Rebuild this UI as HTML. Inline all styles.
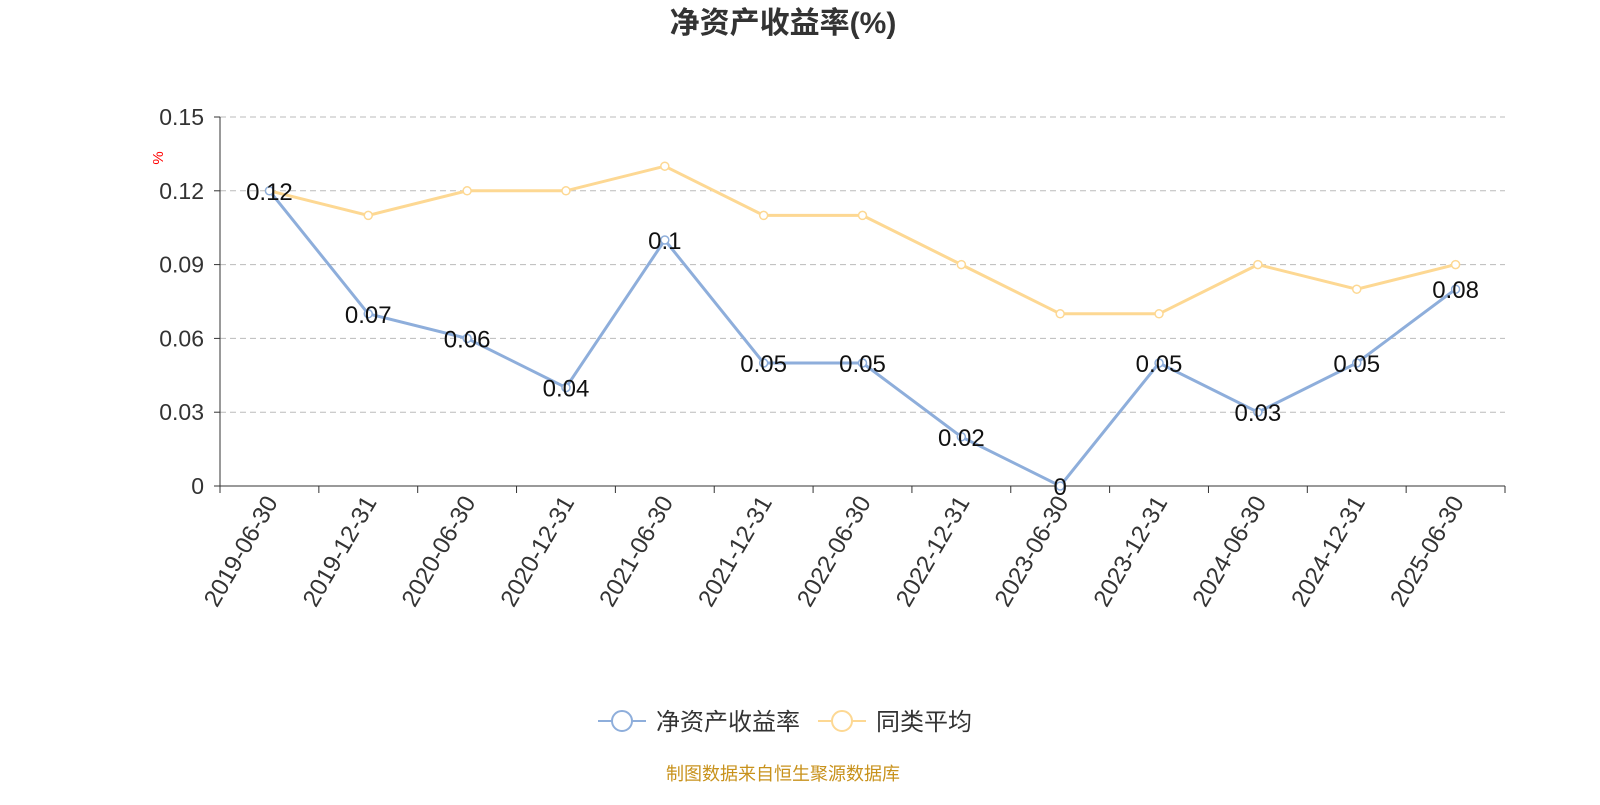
<!DOCTYPE html>
<html><head><meta charset="utf-8"><style>
body{margin:0;background:#fff;width:1600px;height:800px;overflow:hidden;font-family:"Liberation Sans","Noto Sans CJK SC",sans-serif}
</style></head><body>
<svg id="chart" width="1600" height="800" xmlns="http://www.w3.org/2000/svg" font-family="Liberation Sans, Noto Sans CJK SC, sans-serif">
<text x="783" y="33" text-anchor="middle" font-size="30" font-weight="bold" fill="#333">净资产收益率(%)</text>
<text x="0" y="0" transform="translate(163,158) rotate(-90)" text-anchor="middle" font-size="15" fill="#f00">%</text>
<g id="grid"></g><g id="axes"></g><g id="series"></g>
<g>
<g>
<line x1="598" y1="721" x2="646" y2="721" stroke="#8eaedb" stroke-width="2"/><circle cx="622" cy="721" r="10" fill="#fff" stroke="#8eaedb" stroke-width="2"/>
<text x="656" y="730" font-size="24" fill="#333">净资产收益率</text></g>
<g>
<line x1="818" y1="721" x2="866" y2="721" stroke="#fdd893" stroke-width="2"/><circle cx="842" cy="721" r="10" fill="#fff" stroke="#fdd893" stroke-width="2"/>
<text x="876" y="730" font-size="24" fill="#333">同类平均</text></g>
</g>
<text x="783" y="780" text-anchor="middle" font-size="18" fill="#c8921c">制图数据来自恒生聚源数据库</text>
</svg>
<script>
const categories=["2019-06-30","2019-12-31","2020-06-30","2020-12-31","2021-06-30","2021-12-31","2022-06-30","2022-12-31","2023-06-30","2023-12-31","2024-06-30","2024-12-31","2025-06-30"];
const roeValues=[0.12,0.07,0.06,0.04,0.1,0.05,0.05,0.02,0,0.05,0.03,0.05,0.08];
const avgValues=[0.12,0.11,0.12,0.12,0.13,0.11,0.11,0.09,0.07,0.07,0.09,0.08,0.09];
const yTicks=[0,0.03,0.06,0.09,0.12,0.15];
const yTickLabels=["0","0.03","0.06","0.09","0.12","0.15"];
const NS="http://www.w3.org/2000/svg";
const L=220,R=1505,T=117,B=486,yMax=0.15;
const bw=(R-L)/categories.length;
const x=i=>L+bw*(i+0.5);
const y=v=>B-(v/yMax)*(B-T);
function mk(tag,attrs,parent){const e=document.createElementNS(NS,tag);for(const k in attrs)e.setAttribute(k,attrs[k]);parent.appendChild(e);return e;}
const grid=document.getElementById('grid'),axes=document.getElementById('axes'),series=document.getElementById('series');
yTicks.forEach((t,i)=>{
 if(t>0){const g=mk('line',{x1:L,x2:R,y1:y(t),y2:y(t),stroke:'#bbb','stroke-dasharray':'6,4'},grid);
 
 }
 const tk=mk('line',{x1:L-6,x2:L,y1:y(t),y2:y(t),stroke:'#333'},axes);
 
 
 const lb=mk('text',{x:L-16,y:y(t)+8,'text-anchor':'end','font-size':23,fill:'#333'},axes);lb.textContent=yTickLabels[i];
 
 
});
const ya=mk('line',{x1:L,x2:L,y1:T,y2:B,stroke:'#333'},axes);


const xa=mk('line',{x1:L,x2:R,y1:B,y2:B,stroke:'#333'},axes);


for(let i=0;i<=categories.length;i++){const t=mk('line',{x1:L+bw*i,x2:L+bw*i,y1:B,y2:B+7,stroke:'#333'},axes);
 
 }
categories.forEach((c,i)=>{const t=mk('text',{x:0,y:0,transform:`translate(${x(i)+9},${B+16}) rotate(-60)`,'text-anchor':'end','font-size':24,fill:'#333'},axes);t.textContent=c;
 
 });
function drawSeries(vals,color,name,labels){
 const p=mk('polyline',{points:vals.map((v,i)=>x(i)+','+y(v)).join(' '),fill:'none',stroke:color,'stroke-width':3},series);
 
 
 vals.forEach((v,i)=>{const c=mk('circle',{cx:x(i),cy:y(v),r:4,fill:'#fff',stroke:color,'stroke-width':1.5},series);
  
  
  if(labels){const t=mk('text',{x:x(i),y:y(v)+9,'text-anchor':'middle','font-size':24,fill:'#111'},series);t.textContent=String(v);
   
   }
 });
}
drawSeries(avgValues,'#fdd893','peer-average',false);
drawSeries(roeValues,'#8eaedb','roe',true);
</script>
</body></html>
